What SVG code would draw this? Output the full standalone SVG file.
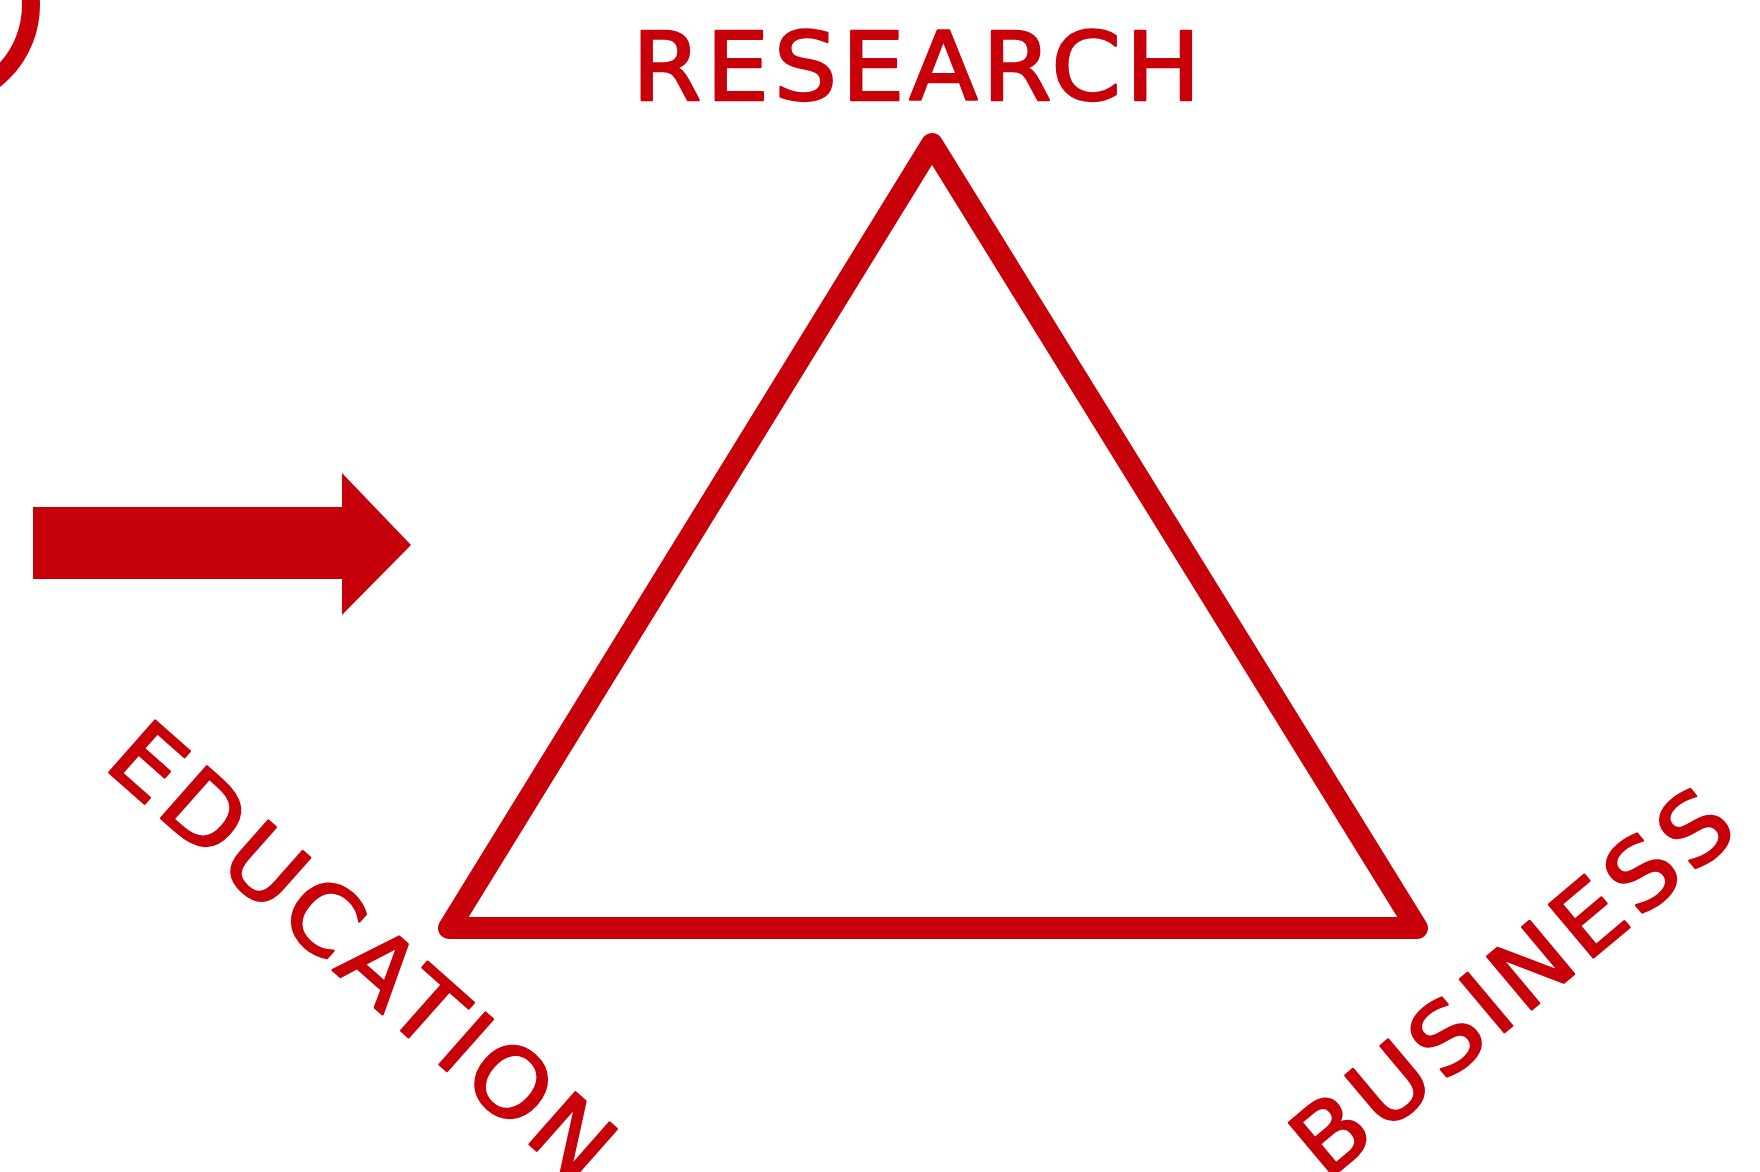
<svg xmlns="http://www.w3.org/2000/svg" width="1760" height="1172" viewBox="0 0 1760 1172">
  <style>
    .lbl { font-family: "DejaVu Sans", "Liberation Sans", sans-serif; font-size: 100px; font-weight: normal; fill: #C8000A; stroke: #C8000A; stroke-width: 2.5; stroke-linejoin: round; }
    .stroke { fill: none; stroke: #C8000A; stroke-linejoin: round; stroke-linecap: round; }
  </style>
  <rect width="1760" height="1172" fill="#ffffff"/>
  <g id="corner-circle">
    <circle class="stroke" cx="-64" cy="5" r="95" stroke-width="18"/>
  </g>
  <g id="research">
    <text class="lbl" transform="translate(632,100) scale(1,0.94)" letter-spacing="4.5">RESEARCH</text>
  </g>
  <g id="triangle">
    <polygon class="stroke" points="932,144 449,928 1417,928" stroke-width="22"/>
  </g>
  <g id="arrow">
    <polygon points="33,507 342,507 342,473 411,545 342,615 342,579 33,579" fill="#C6000A"/>
  </g>
  <g id="education">
    <text class="lbl" transform="translate(102,766) rotate(41.5) scale(1,0.95)" letter-spacing="6">EDUCATION</text>
  </g>
  <g id="business">
    <text class="lbl" transform="translate(1326,1182) rotate(-40) scale(1,0.95)" letter-spacing="6">BUSINESS</text>
  </g>
</svg>
